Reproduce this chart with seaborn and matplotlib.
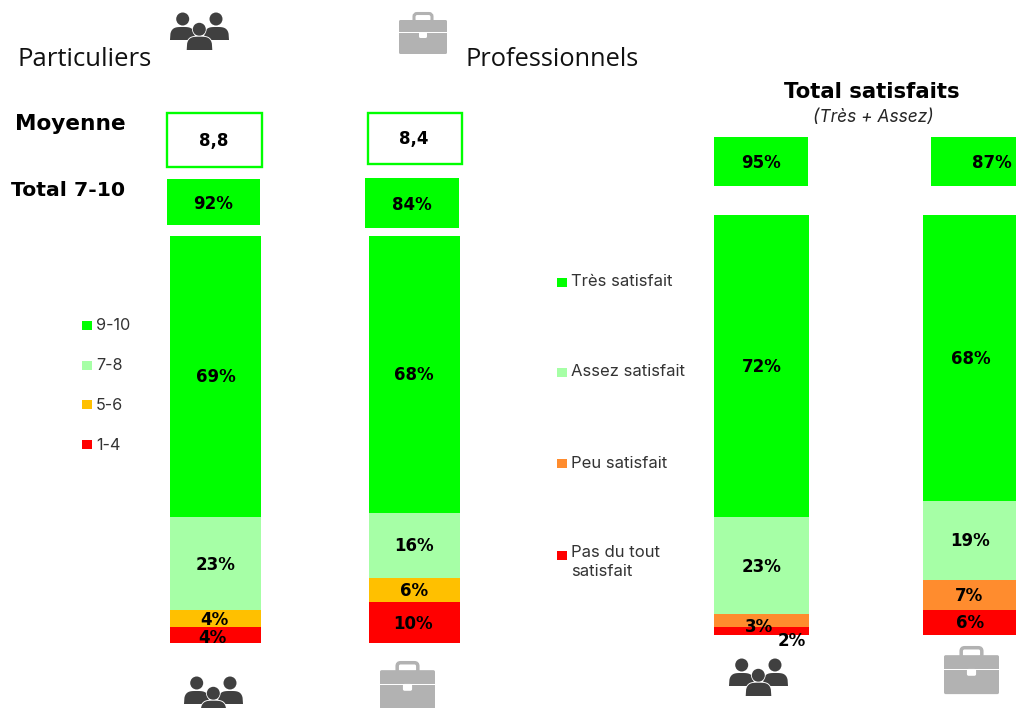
import numpy as np
import pandas as pd
import matplotlib
matplotlib.use('Agg')
import matplotlib.pyplot as plt
from matplotlib.patches import Rectangle, Circle, Polygon, FancyBboxPatch
import seaborn as sns

# Data
groups = ['Particuliers', 'Professionnels']
notes_segments = ['9-10', '7-8', '5-6', '1-4']
notes_values = [[69, 68], [23, 16], [4, 6], [4, 10]]
notes_colors = ['#00FF00', '#A6FFA6', '#FFC000', '#FF0000']
moyenne = ['8,8', '8,4']
total_7_10 = ['92%', '84%']

satis_segments = ['Très satisfait', 'Assez satisfait', 'Peu satisfait', 'Pas du tout\nsatisfait']
satis_values = [[72, 68], [23, 19], [3, 7], [2, 6]]
satis_colors = ['#00FF00', '#A6FFA6', '#FF8C2E', '#FF0000']
total_satis = ['95%', '87%']

W, H = 1016, 708
BOLD = 'DejaVu Sans'
REG = 'Inter'

sns.set_theme(style='white')
fig = plt.figure(figsize=(W / 100, H / 100), dpi=100, facecolor='white')

# overlay in pixels for the slide furniture (text, icons, boxes)
bg = fig.add_axes([0, 0, 1, 1])
bg.set_xlim(0, W)
bg.set_ylim(H, 0)
bg.axis('off')


def stacked(values, colors, centers, bar_px, top, bottom, label_shift):
    step = centers[1] - centers[0]
    left = centers[0] - step / 2
    ax = fig.add_axes([left / W, 1 - bottom / H, 2 * step / W, (bottom - top) / H])
    ax.patch.set_alpha(0)
    vals = np.array(values, dtype=float)
    for i, color in enumerate(colors):
        base = vals[i + 1:].sum(axis=0)
        df = pd.DataFrame({'groupe': groups, 'pct': vals[i]})
        sns.barplot(data=df, x='groupe', y='pct', color=color, saturation=1,
                    width=bar_px / step, bottom=base, linewidth=0, ax=ax)
        for j, v in enumerate(vals[i]):
            dx, dy = label_shift.get((i, j), (0, 0))
            ax.annotate(f'{v:.0f}%', (j, base[j] + v / 2), xytext=(dx * 0.72, -dy * 0.72),
                        textcoords='offset points', ha='center', va='center',
                        fontsize=12, fontweight='bold', family=BOLD, color='black',
                        clip_on=(i, j) == (3, 0) and bottom == 643,
                        annotation_clip=False)
    ax.set_xlim(-0.5, 1.5)
    ax.set_ylim(0, 100)
    ax.axis('off')
    return ax


stacked(notes_values, notes_colors, (215.5, 414), 91, 236, 643,
        {(0, 0): (0, 1), (0, 1): (0, 1), (1, 0): (0, 1), (1, 1): (0, 1), (2, 0): (-1, 1),
         (2, 1): (0, 1), (3, 0): (-3, 3), (3, 1): (-1, 1)})
stacked(satis_values, satis_colors, (761.5, 970.5), 95, 215, 635,
        {(0, 0): (0, 1), (0, 1): (0, 1), (1, 0): (0, 1), (1, 1): (0, 1), (2, 0): (-2, 7),
         (2, 1): (-1, 1), (3, 0): (30, 10), (3, 1): (0, 1)})


def box(x0, y0, x1, y1, txt, tx, ty, filled):
    if filled:
        bg.add_patch(Rectangle((x0, y0), x1 - x0, y1 - y0, fc='#00FF00', ec='none'))
    else:
        bg.add_patch(Rectangle((x0, y0), x1 - x0, y1 - y0, fc='white', ec='#00FF00', lw=1.7))
    bg.text(tx, ty + 1, txt, ha='center', va='center', fontsize=12, fontweight='bold',
            family=BOLD, color='black')


box(167, 113, 262, 167, moyenne[0], 214, 140, False)
box(368, 113, 462, 164, moyenne[1], 414, 138, False)
box(167, 179, 260, 225, total_7_10[0], 213, 203, True)
box(365, 178, 459, 228, total_7_10[1], 412, 204, True)
box(714, 137, 808, 186, total_satis[0], 761, 162, True)
box(931, 137, 1016, 186, total_satis[1], 992, 162, True)


def dome(x0, x1, y0, y1, **kw):
    # rounded shoulders: flat base with a super-elliptic top
    t = np.linspace(-1, 1, 60)
    xs = (x0 + x1) / 2 + t * (x1 - x0) / 2
    ys = y1 - (y1 - y0) * (1 - np.abs(t) ** 3.5) ** (1 / 3)
    bg.add_patch(Polygon(np.column_stack([xs, ys]), closed=True, **kw))


def people(x0, y0):
    c = '#404040'
    for hx in (12.7, 46):
        bg.add_patch(Circle((x0 + hx, y0 + 6), 6.5, fc=c, ec='none'))
    dome(x0, x0 + 25, y0 + 14, y0 + 27, fc=c, ec='none')
    dome(x0 + 34, x0 + 59, y0 + 14, y0 + 27, fc=c, ec='none')
    bg.add_patch(Circle((x0 + 29.3, y0 + 16.3), 7.3, fc='white', ec='none'))
    bg.add_patch(Circle((x0 + 29.3, y0 + 16.3), 6.5, fc=c, ec='none'))
    dome(x0 + 15.8, x0 + 43.2, y0 + 22.8, y0 + 38, fc='white', ec='none')
    dome(x0 + 16.7, x0 + 42.3, y0 + 23.7, y0 + 37, fc=c, ec='none')


def briefcase(x0, y0, s):
    c = '#B2B2B2'
    bg.add_patch(FancyBboxPatch((x0 + 15 * s, y0 + 1.5 * s), 18 * s, 9 * s,
                                boxstyle=f'round,pad=0,rounding_size={3 * s}',
                                fc='none', ec=c, lw=2.2 * s))
    bg.add_patch(FancyBboxPatch((x0, y0 + 8 * s), 48 * s, 34 * s,
                                boxstyle=f'round,pad=0,rounding_size={1.5 * s}', fc=c, ec='none'))
    bg.add_patch(Rectangle((x0, y0 + 20 * s), 48 * s, 1.2 * s, fc='white', ec='none'))
    bg.add_patch(FancyBboxPatch((x0 + 20 * s, y0 + 20 * s), 8 * s, 6 * s,
                                boxstyle=f'round,pad=0,rounding_size={1.5 * s}', fc='white', ec='none'))


people(170, 13)
people(184, 677)
people(729, 659)
briefcase(399, 12, 1)
briefcase(380, 661, 55 / 48)
briefcase(944, 646, 55 / 48)

# titles
bg.text(18, 59, 'Particuliers', ha='left', va='center', fontsize=18.5, family='Open Sans', color='#111111')
bg.text(465, 59, 'Professionnels', ha='left', va='center', fontsize=18.3, family='Open Sans', color='#111111')
bg.text(70, 124, 'Moyenne', ha='center', va='center', fontsize=15.6, fontweight='bold', family=BOLD, color='black')
bg.text(68, 190, 'Total 7-10', ha='center', va='center', fontsize=14.7, fontweight='bold', family=BOLD, color='black')
bg.text(872, 92, 'Total satisfaits', ha='center', va='center', fontsize=15.2, fontweight='bold', family=BOLD, color='black')
bg.text(873, 117, '(Très + Assez)', ha='center', va='center', fontsize=12.5, style='italic', family=REG, color='#262626')

# legends
for label, color, y in zip(notes_segments, notes_colors, [325, 365, 404, 444]):
    bg.add_patch(Rectangle((82, y - 4.5), 9.5, 9.5, fc=color, ec='none'))
    bg.text(96, y + 1, label, ha='left', va='center', fontsize=11.7, family=REG, color='#333333')
for label, color, y in zip(satis_segments, satis_colors, [282, 372, 463, 555]):
    bg.add_patch(Rectangle((557, y - 4.5), 9.5, 9.5, fc=color, ec='none'))
    if '\n' in label:
        bg.text(571, y - 10, label, ha='left', va='top', fontsize=12, family=REG, color='#333333', linespacing=1.3)
    else:
        bg.text(571, y, label, ha='left', va='center', fontsize=12, family=REG, color='#333333')

fig.savefig('out.png', dpi=100)
